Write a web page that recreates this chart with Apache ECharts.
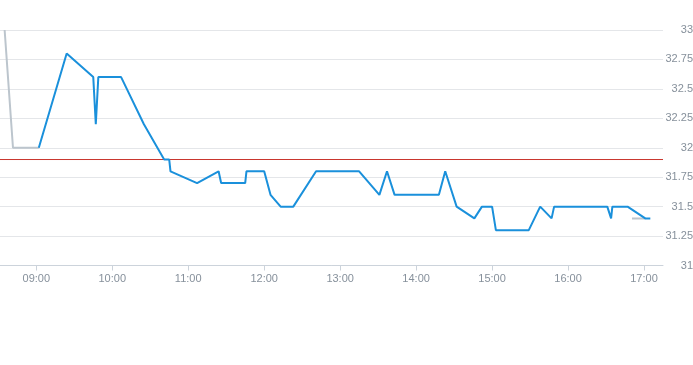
<!DOCTYPE html>
<html>
<head>
<meta charset="utf-8">
<script src="https://cdn.jsdelivr.net/npm/echarts@6/dist/echarts.min.js"></script>
<style>
html,body{margin:0;padding:0;background:#fff;}
#chart{width:693px;height:365px;}
</style>
</head>
<body>
<div id="chart"></div>
<script>
// ---- data ----
var priceTimes = ['09:02','09:24','09:45','09:47','09:49','10:07','10:25','10:41','10:45','10:46',
  '11:07','11:24','11:26','11:45','11:46','12:00','12:05','12:13','12:23','12:41',
  '13:15','13:31','13:37','13:43','14:18','14:23','14:32','14:46','14:52','15:00',
  '15:03','15:29','15:38','15:47','15:49','16:31','16:34','16:35','16:47','17:01','17:05'];
var priceValues = [32.0,32.8,32.6,32.2,32.6,32.6,32.2,31.9,31.9,31.8,
  31.7,31.8,31.7,31.7,31.8,31.8,31.6,31.5,31.5,31.8,
  31.8,31.6,31.8,31.6,31.6,31.8,31.5,31.4,31.5,31.5,
  31.3,31.3,31.5,31.4,31.5,31.5,31.4,31.5,31.5,31.4,31.4];
var preTimes = ['08:35','08:41:36','09:02'];
var preValues = [33.0,32.0,32.0];
var postTimes = ['16:50:30','17:01'];
var postValues = [31.4,31.4];
var refLevel = 31.9;
var xStart = '08:30', xEnd = '17:15';
var xTickLabels = ['09:00','10:00','11:00','12:00','13:00','14:00','15:00','16:00','17:00'];
var yMin = 31, yMax = 33, yStep = 0.25;

// ---- helpers ----
function toMin(s){ var p = s.split(':'); return (+p[0])*60 + (+p[1]) + (p[2] ? (+p[2])/60 : 0); }
function pad(n){ return (n<10?'0':'')+n; }
function fmt(m){ m = Math.round(m); return pad(Math.floor(m/60)) + ':' + pad(m%60); }
function pairs(ts, vs){ return ts.map(function(t,i){ return [toMin(t), vs[i]]; }); }
var tickVals = xTickLabels.map(toMin);

var labelColor = '#86909b';
var chart = echarts.init(document.getElementById('chart'));
chart.setOption({
  animation: false,
  grid: { left: -1.7, right: 30, top: 30, bottom: 99.5, outerBoundsMode: 'none', containLabel: false },
  xAxis: {
    type: 'value',
    min: toMin(xStart), max: toMin(xEnd),
    splitLine: { show: false },
    axisLine: { lineStyle: { color: '#ccd3db' } },
    axisTick: { show: true, customValues: tickVals, length: 5, lineStyle: { color: '#ccd3db' } },
    axisLabel: { customValues: tickVals, formatter: function(v){ return fmt(v); },
      color: labelColor, fontSize: 11, fontFamily: 'Liberation Sans, Arial, sans-serif', margin: 8 }
  },
  yAxis: {
    type: 'value', position: 'right',
    min: yMin, max: yMax, interval: yStep,
    axisLine: { show: false }, axisTick: { show: false },
    splitLine: { lineStyle: { color: '#e4e6e9', width: 1 } },
    axisLabel: { align: 'right', margin: 30, color: labelColor, fontSize: 11,
      fontFamily: 'Liberation Sans, Arial, sans-serif' }
  },
  series: [
    { type: 'line', data: [[toMin(xStart), refLevel], [toMin(xEnd), refLevel]],
      showSymbol: false, symbol: 'none', silent: true, z: 2,
      lineStyle: { color: '#c9362e', width: 1 } },
    { type: 'line', data: pairs(preTimes, preValues), showSymbol: false, symbol: 'none',
      lineStyle: { color: '#bcc5cd', width: 2 }, z: 1, silent: true },
    { type: 'line', data: pairs(postTimes, postValues), showSymbol: false, symbol: 'none',
      lineStyle: { color: '#bcc5cd', width: 2 }, z: 1, silent: true },
    { type: 'line', data: pairs(priceTimes, priceValues), showSymbol: false, symbol: 'none',
      lineStyle: { color: '#1a90db', width: 2 }, z: 3 }
  ]
});
</script>
</body>
</html>
